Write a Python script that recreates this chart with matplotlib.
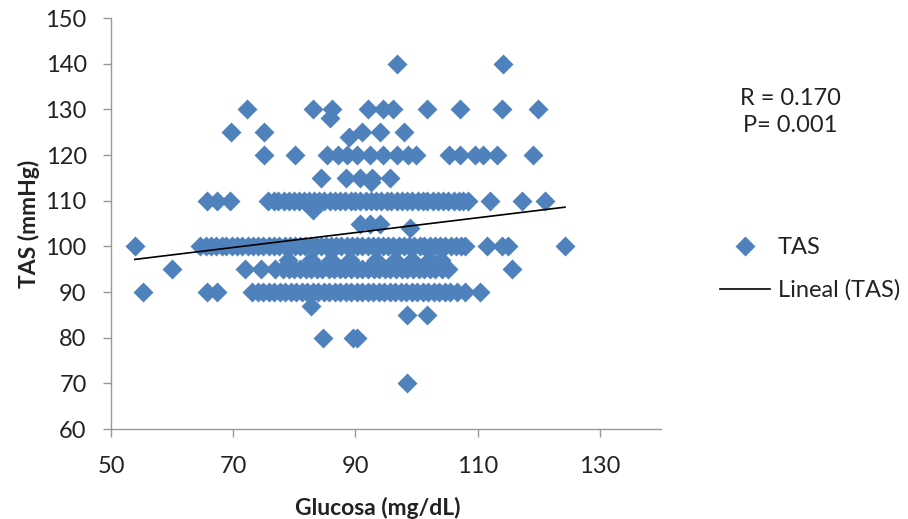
import matplotlib
matplotlib.use("Agg")
import matplotlib.pyplot as plt
from matplotlib.lines import Line2D
import numpy as np

plt.rcParams['font.family'] = ['Lato', 'DejaVu Sans']

# ---- data (Glucosa mg/dL for each TAS mmHg level) ----
tas_levels = [140, 130, 128, 125, 124, 120, 115, 114, 110, 108, 105, 104,
              100, 97, 95, 90, 87, 85, 80, 70]
glucosa_140 = [96.8, 114.1]
glucosa_130 = [72.2, 83.1, 86.2, 92.1, 94.5, 96.2, 101.8, 107.1, 114.0, 119.9]
glucosa_128 = [85.9]
glucosa_125 = [69.7, 75.1, 91.1, 94.0, 97.9]
glucosa_124 = [89.0]
glucosa_120 = [75.1, 80.1, 85.4, 87.2, 88.6, 90.2, 92.4, 94.5, 96.8, 98.6, 100.0,
               105.4, 107.1, 109.6, 110.9, 113.2, 119.1]
glucosa_115 = [84.4, 88.4, 90.8, 92.7, 95.7]
glucosa_114 = [92.6]
glucosa_110 = [65.7, 67.3, 69.5, 75.7, 76.6, 77.4, 78.3, 79.1, 80.0, 80.7, 81.6,
               82.4, 83.3, 84.1, 84.9, 85.8, 86.6, 87.5, 88.3, 89.2, 90.0, 90.8,
               91.7, 92.5, 93.4, 94.2, 95.1, 95.9, 96.8, 97.6, 98.5, 99.3, 100.2,
               101.0, 101.8, 102.7, 103.5, 104.4, 105.2, 106.1, 106.9, 107.6,
               108.4, 112.0, 117.3, 121.0]
glucosa_108 = [83.0]
glucosa_105 = [90.8, 92.4, 94.0]
glucosa_104 = [99.0]
glucosa_100 = [53.9, 64.6, 65.5, 66.3, 67.2, 68.1, 68.9, 69.8, 70.7, 71.5, 72.4,
               73.2, 74.1, 74.9, 75.8, 76.7, 77.5, 78.4, 79.3, 80.1, 81.0, 81.8,
               82.7, 83.5, 84.4, 85.2, 86.0, 86.9, 87.7, 88.6, 89.4, 90.3, 91.1,
               92.0, 92.8, 93.7, 94.5, 95.4, 96.2, 97.1, 97.9, 98.8, 99.6, 100.5,
               101.3, 102.2, 103.0, 103.9, 104.7, 105.6, 106.4, 107.3, 107.9,
               111.6, 114.0, 114.9, 124.3]
glucosa_97 = [78.9, 82.8, 86.0, 89.1, 93.3, 96.5, 99.2, 102.0, 104.0]
glucosa_95 = [60.0, 71.9, 74.5, 76.8, 78.2, 79.1, 80.0, 81.0, 81.9, 82.8, 83.7,
              84.6, 85.6, 86.5, 87.4, 88.3, 89.3, 90.2, 91.1, 92.0, 93.0, 93.9,
              94.8, 95.7, 96.7, 97.6, 98.5, 99.4, 100.4, 101.3, 102.2, 103.1,
              104.1, 105.2, 115.7]
glucosa_90 = [55.2, 65.7, 67.3, 73.1, 74.0, 74.9, 75.8, 76.7, 77.6, 78.5, 79.4,
              80.3, 81.2, 82.1, 83.0, 83.9, 84.8, 85.7, 86.6, 87.5, 88.4, 89.3,
              90.2, 91.1, 92.0, 92.9, 93.8, 94.7, 95.6, 96.5, 97.4, 98.3, 99.2,
              100.1, 101.0, 101.9, 102.8, 103.7, 104.6, 105.5, 106.6, 107.9, 110.4]
glucosa_87 = [82.8]
glucosa_85 = [98.5, 101.8]
glucosa_80 = [84.7, 89.6, 90.2]
glucosa_70 = [98.5]

glucosa_rows = [glucosa_140, glucosa_130, glucosa_128, glucosa_125, glucosa_124,
                glucosa_120, glucosa_115, glucosa_114, glucosa_110, glucosa_108,
                glucosa_105, glucosa_104, glucosa_100, glucosa_97, glucosa_95,
                glucosa_90, glucosa_87, glucosa_85, glucosa_80, glucosa_70]

# linear trendline as drawn in the reference (TAS = slope * Glucosa + intercept)
trend_slope = 0.1625
trend_intercept = 88.38

stats_text = "R = 0.170\nP= 0.001"
xlabel = "Glucosa (mg/dL)"
ylabel = "TAS (mmHg)"
series_label = "TAS"
trend_label = "Lineal (TAS)"
x_ticks = [50, 70, 90, 110, 130]
y_ticks = [60, 70, 80, 90, 100, 110, 120, 130, 140, 150]

glucosa = np.concatenate([np.array(r, dtype=float) for r in glucosa_rows])
tas = np.concatenate([np.full(len(r), lvl, dtype=float)
                      for r, lvl in zip(glucosa_rows, tas_levels)])

# ---- figure ----
fig = plt.figure(figsize=(9.08, 5.19), dpi=100)
ax = fig.add_axes([0.1222, 0.1734, 0.6057, 0.7919])

blue = '#4F81BD'
ax.plot(glucosa, tas, linestyle='none', marker='D', markersize=10.2,
        markerfacecolor=blue, markeredgecolor='none', zorder=2)

xt = np.array([glucosa.min(), glucosa.max()])
ax.plot(xt, trend_slope * xt + trend_intercept, color='black', linewidth=1.2,
        zorder=3)

ax.set_xlim(50, 140)
ax.set_ylim(60, 150)
ax.set_xticks(x_ticks)
ax.set_yticks(y_ticks)

for s in ['top', 'right']:
    ax.spines[s].set_visible(False)
for s in ['left', 'bottom']:
    ax.spines[s].set_color('#999999')
    ax.spines[s].set_linewidth(1.0)

ax.tick_params(axis='both', colors='#999999', labelcolor='#222222',
               labelsize=17, length=5.5, width=1.0, direction='out')
ax.tick_params(axis='x', pad=14)
ax.tick_params(axis='y', pad=12)

ax.set_xlabel(xlabel, fontsize=16.5, fontweight='bold', color='#222222')
ax.set_ylabel(ylabel, fontsize=16.5, fontweight='bold', color='#222222')
ax.xaxis.set_label_coords(0.485, -0.165)
ax.yaxis.set_label_coords(-0.129, 0.5)

fig.text(790 / 908, 1 - 112 / 519, stats_text, ha='center', va='center',
         fontsize=17, color='#222222', linespacing=1.37)

handles = [Line2D([], [], linestyle='none', marker='D', markersize=10.2,
                  markerfacecolor=blue, markeredgecolor='none'),
           Line2D([], [], color='black', linewidth=1.2)]
leg = fig.legend(handles, [series_label, trend_label], loc='center left',
                 bbox_to_anchor=(720 / 908, 1 - 269 / 519), frameon=False,
                 fontsize=17, handlelength=2.1, handletextpad=0.35,
                 labelspacing=0.9, borderpad=0, borderaxespad=0)
for t in leg.get_texts():
    t.set_color('#222222')

fig.savefig('out.png', dpi=100)
